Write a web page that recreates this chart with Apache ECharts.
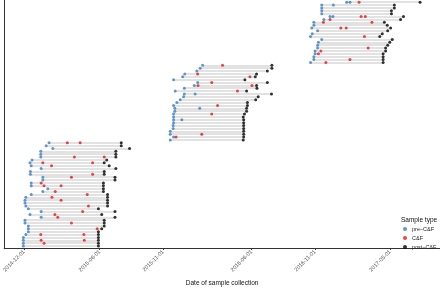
<!DOCTYPE html>
<html>
<head>
<meta charset="utf-8">
<script src="https://cdn.jsdelivr.net/npm/echarts@6/dist/echarts.min.js"></script>
<style>
  html, body { margin: 0; padding: 0; background: #fff; }
  #chart { width: 440px; height: 292px; }
</style>
</head>
<body>
<div id="chart"></div>
<script>
// days since 2014-12-01, one entry per subject, bottom row first
const preDays = [
  [-2], [-2], [-2], [-2], [4], [10], [10], [10], [2], [2],
  [41], [14], [41], [10], [4], [2], [2], [4], [17], [45],
  [57], [17], [17], [45], [45], [15], [15], [41], [17], [14],
  [19], [40], [40], [40], [69], [53], [60],
  [352], [360], [352], [352], [359], [359], [360], [360, 380], [360], [360],
  [363], [363, 423], [360], [368], [376], [384], [386, 412], [364], [386], [410],
  [418], [360], [382], [387], [416], [424], [430],
  [690], [698], [698], [701], [701], [707], [707], [709], [717], [690],
  [694], [707], [693], [698], [698], [722], [737, 744], [717], [717], [717],
  [717, 745], [777, 785]
];
const cfDays = [
  [], [48], [41, 145], [], [40, 144], [], [176], [], [114], [],
  [81], [74], [141], [], [155], [], [89], [67], [152], [75],
  [], [48, 89], [41], [], [114], [165], [], [], [66], [45, 165],
  [], [121, 193], [], [], [], [], [104, 135],
  [], [366], [428], [], [], [], [], [], [], [452],
  [], [], [466], [], [], [], [], [514], [], [419, 549],
  [452], [], [544], [418], [], [], [478],
  [727], [785], [], [709], [715], [829], [], [], [], [820],
  [], [], [763, 776], [], [721, 838], [737], [812, 822], [], [], [],
  [], [807]
];
const postDays = [
  179, 179, 179, 179, 179, 179, 187, 193, 193, 193,
  219, 187, 219, 179, 201, 201, 201, 201, 201, 191,
  191, 191, 191, 219, 219, 193, 193, 221, 205, 193,
  199, 221, 221, 221, 254, 234, 234,
  528, 529, 529, 529, 529, 529, 529, 529, 528, 531,
  536, 536, 538, 538, 558, 564, 596, 536, 561, 560,
  586, 532, 557, 560, 586, 597, 597,
  865, 865, 865, 865, 871, 871, 876, 881, 887, 857,
  863, 876, 883, 875, 868, 907, 914, 885, 885, 892,
  892, 954
];
const tickDates = ['2014-12-01', '2015-06-01', '2015-11-01', '2016-06-01', '2016-11-01', '2017-05-01'];
const typeNames = ['pre\u2013C&F', 'C&F', 'post\u2013C&F'];
const typeColors = ['#3a7dc0', '#e41a1c', '#000000'];

const base = Date.UTC(2014, 11, 1);
const DAY = 86400000;
const t = (d) => base + d * DAY;

const segs = [];
const prePts = [];
const cfPts = [];
const postPts = [];
postDays.forEach((post, i) => {
  const row = i + 1;
  const first = Math.min(...preDays[i]);
  segs.push({ coords: [[t(first), row], [t(post), row]] });
  preDays[i].forEach((d) => prePts.push([t(d), row]));
  cfDays[i].forEach((d) => cfPts.push([t(d), row]));
  postPts.push([t(post), row]);
});
const tickValues = tickDates.map((s) => Date.parse(s + 'T00:00:00Z'));

const chart = echarts.init(document.getElementById('chart'));
const option = {
  animation: false,
  textStyle: { fontFamily: 'Liberation Sans, Arial, sans-serif' },
  grid: { left: 1, right: 0, top: 0, bottom: 31 },
  title: {
    text: 'Sample type',
    left: 401,
    top: 217,
    padding: 0,
    textStyle: { fontSize: 6.5, fontWeight: 'normal', color: '#111' },
  },
  legend: {
    data: typeNames,
    orient: 'vertical',
    left: 403,
    top: 226,
    padding: 0,
    itemGap: 3,
    itemWidth: 4,
    itemHeight: 4,
    icon: 'circle',
    textStyle: { fontSize: 5.5, color: '#222' },
  },
  xAxis: {
    type: 'value',
    min: t(-48),
    max: t(1002),
    name: 'Date of sample collection',
    nameLocation: 'middle',
    nameGap: 26,
    nameTextStyle: { fontSize: 6.5, color: '#111' },
    axisLine: { lineStyle: { color: '#333', width: 1 } },
    axisTick: { customValues: tickValues, length: 2, lineStyle: { color: '#333' } },
    axisLabel: {
      customValues: tickValues,
      rotate: 45,
      fontSize: 5.5,
      color: '#4d4d4d',
      margin: 3,
      formatter: (v) => new Date(v).toISOString().slice(0, 10),
    },
    splitLine: { show: false },
  },
  yAxis: {
    type: 'value',
    min: 0.33,
    max: 86.76,
    axisLine: { show: true, onZero: false, lineStyle: { color: '#333', width: 1 } },
    axisTick: { show: false },
    axisLabel: { show: false },
    splitLine: { show: false },
  },
  series: [
    {
      type: 'lines',
      coordinateSystem: 'cartesian2d',
      silent: true,
      z: 1,
      lineStyle: { color: '#e2e2e2', width: 2, opacity: 1 },
      data: segs,
    },
    {
      name: typeNames[0],
      type: 'scatter',
      z: 3,
      symbolSize: 3,
      itemStyle: { color: typeColors[0] },
      data: prePts,
    },
    {
      name: typeNames[1],
      type: 'scatter',
      z: 3,
      symbolSize: 3,
      itemStyle: { color: typeColors[1] },
      data: cfPts,
    },
    {
      name: typeNames[2],
      type: 'scatter',
      z: 3,
      symbolSize: 3,
      itemStyle: { color: typeColors[2] },
      data: postPts,
    },
  ],
};
chart.setOption(option);
</script>
</body>
</html>
